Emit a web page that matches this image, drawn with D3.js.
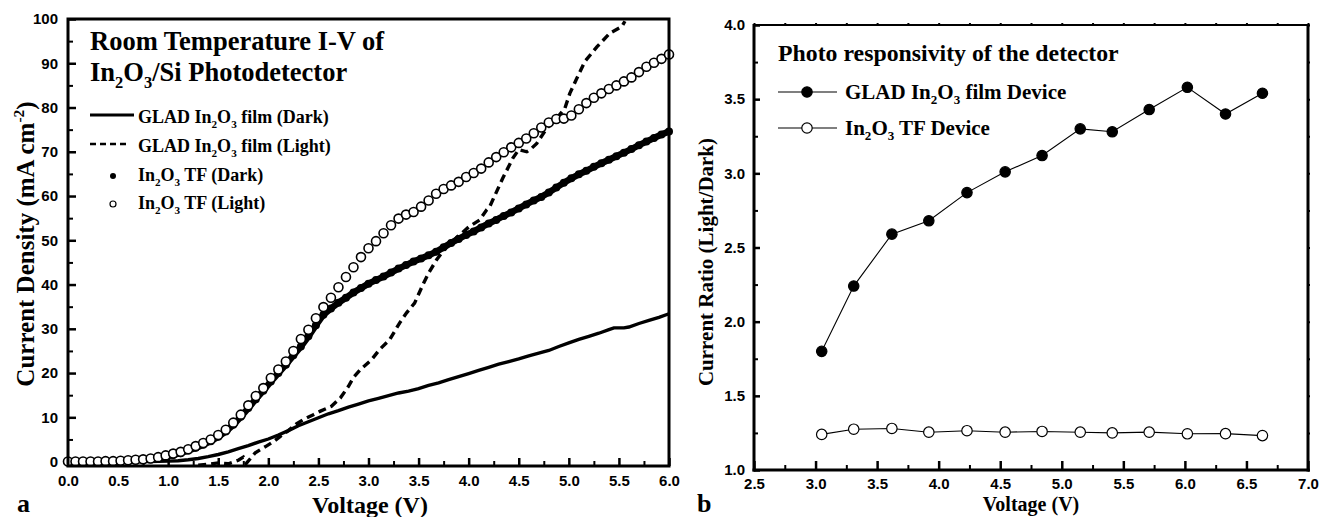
<!DOCTYPE html>
<html>
<head>
<meta charset="utf-8">
<script src="https://cdn.jsdelivr.net/npm/d3@7"></script>
<style>
  body { margin: 0; background: #fff; }
  svg { display: block; }
  .tick text { font-family: "Liberation Sans", Arial, sans-serif; font-weight: bold; font-size: 15px; fill: #000; }
  .tick line { stroke: #000; stroke-width: 2.5; }
  .minor .tick line { stroke-width: 2; }
  .serif { font-family: "Liberation Serif", "Times New Roman", serif; font-weight: bold; fill: #000; }
</style>
</head>
<body>
<div id="chart"></div>
<script>
// ---------------------------------------------
// data, panel a : I-V curves
// ---------------------------------------------
// GLAD In2O3 film, dark (solid line)
const gladDarkV = [0, 0.5, 0.8, 1.0, 1.1, 1.2, 1.3, 1.4, 1.5, 1.6, 1.7, 1.8, 1.9, 2.0, 2.1, 2.2, 2.3, 2.4, 2.5,
  2.6, 2.7, 2.8, 2.9, 3.0, 3.1, 3.2, 3.3, 3.4, 3.5, 3.6, 3.7, 3.8, 3.9, 4.0, 4.1, 4.2, 4.3, 4.4, 4.5, 4.6, 4.7,
  4.8, 4.9, 5.0, 5.1, 5.2, 5.3, 5.4, 5.45, 5.55, 5.6, 5.7, 5.8, 5.9, 6.0];
const gladDarkJ = [0, 0, 0, 0.1, 0.2, 0.4, 0.7, 1.1, 1.6, 2.2, 2.9, 3.6, 4.4, 5.1, 6.0, 7.0, 8.1, 9.0, 9.9,
  10.8, 11.5, 12.3, 13.0, 13.7, 14.3, 14.9, 15.5, 15.9, 16.5, 17.2, 17.8, 18.5, 19.2, 19.9, 20.6, 21.3, 22.0, 22.6, 23.2, 23.9, 24.5,
  25.1, 26.0, 26.8, 27.6, 28.3, 29.0, 29.8, 30.2, 30.2, 30.4, 31.2, 31.9, 32.6, 33.4];

// GLAD In2O3 film, light (dashed line)
const gladLightV = [1.30, 1.40, 1.50, 1.60, 1.70, 1.75, 1.78, 1.87, 1.98, 2.05, 2.12, 2.20, 2.28, 2.35, 2.45, 2.52,
  2.63, 2.72, 2.80, 2.85, 2.92, 3.03, 3.11, 3.21, 3.31, 3.38, 3.46, 3.55, 3.60, 3.68, 3.78, 3.90, 4.00, 4.11,
  4.18, 4.21, 4.34, 4.44, 4.50, 4.58, 4.62, 4.68, 4.78, 4.88, 4.96, 5.01, 5.08, 5.16, 5.28, 5.41, 5.53, 5.56];
const gladLightJ = [-0.8, -0.6, -0.3, -0.5, 0.3, 1.0, -0.4, 2.0, 3.5, 4.5, 5.7, 7.0, 8.5, 9.5, 10.6, 11.4,
  12.5, 14.4, 17.0, 19.0, 20.8, 23.0, 25.3, 27.5, 31.3, 33.6, 35.8, 40.3, 42.6, 45.6, 48.6, 51.0, 53.0, 54.6,
  56.9, 57.6, 64.0, 68.5, 70.5, 70.0, 70.6, 71.9, 75.3, 77.6, 79.8, 83.2, 86.6, 90.4, 93.7, 96.8, 98.3, 99.5];

// In2O3 thin film sweep voltages (markers)
const tfV = [0, 0.075, 0.15, 0.225, 0.3, 0.375, 0.45, 0.525, 0.6, 0.675, 0.75, 0.825, 0.9, 0.975,
  1.05, 1.125, 1.2, 1.275, 1.35, 1.425, 1.5, 1.575, 1.65, 1.725, 1.8, 1.875, 1.95, 2.025,
  2.1, 2.175, 2.25, 2.325, 2.4, 2.475, 2.55, 2.625, 2.7, 2.775, 2.85, 2.925, 3.0, 3.075,
  3.15, 3.225, 3.3, 3.375, 3.45, 3.525, 3.6, 3.675, 3.75, 3.825, 3.9, 3.975, 4.05, 4.125,
  4.2, 4.275, 4.35, 4.425, 4.5, 4.575, 4.65, 4.725, 4.8, 4.875, 4.95, 5.025, 5.1, 5.175,
  5.25, 5.325, 5.4, 5.475, 5.55, 5.625, 5.7, 5.775, 5.85, 5.925, 6.0];
const tfDarkJ = [0, 0, 0, 0, 0, 0, 0.1, 0.1, 0.2, 0.3, 0.4, 0.5, 0.8, 1.1,
  1.5, 1.9, 2.5, 3.1, 3.8, 4.6, 5.6, 6.8, 8.3, 10.1, 12.1, 14.1, 16.0, 18.1,
  20.0, 21.9, 24.0, 26.0, 28.3, 30.8, 33.2, 34.6, 35.9, 37.0, 38.2, 39.2, 40.2, 41.0,
  41.8, 42.7, 43.6, 44.4, 45.2, 45.9, 46.6, 47.4, 48.4, 49.4, 50.3, 51.2, 52.0, 52.9,
  53.8, 54.6, 55.5, 56.3, 57.2, 58.1, 59.0, 59.8, 60.8, 61.9, 63.0, 64.0, 64.9, 65.7,
  66.6, 67.4, 68.2, 69.0, 69.8, 70.6, 71.5, 72.3, 73.1, 73.9, 74.6];
const tfLightJ = [0, 0, 0, 0, 0, 0.1, 0.1, 0.2, 0.3, 0.4, 0.5, 0.7, 1.0, 1.4,
  1.8, 2.2, 2.8, 3.5, 4.2, 5.0, 6.0, 7.2, 8.8, 10.6, 12.7, 14.8, 16.6, 18.9,
  20.8, 22.6, 25.0, 27.7, 29.8, 32.4, 34.9, 37.0, 39.4, 41.7, 43.9, 46.2, 48.2, 49.8,
  51.6, 53.4, 54.9, 55.8, 56.4, 57.6, 59.0, 60.5, 61.6, 62.4, 63.2, 64.3, 65.2, 66.2,
  67.6, 68.8, 69.9, 71.0, 72.0, 73.0, 74.2, 75.5, 76.6, 77.4, 77.5, 78.2, 79.6, 81.0,
  82.2, 83.2, 84.2, 85.0, 85.9, 86.8, 88.0, 89.2, 90.1, 91.0, 92.0];

// ---------------------------------------------
// data, panel b : current ratio
// ---------------------------------------------
const ratioV = [3.05, 3.31, 3.62, 3.92, 4.23, 4.54, 4.84, 5.15, 5.41, 5.71, 6.02, 6.33, 6.63];
const ratioGlad = [1.80, 2.24, 2.59, 2.68, 2.87, 3.01, 3.12, 3.30, 3.28, 3.43, 3.58, 3.40, 3.54];
const ratioTF = [1.24, 1.275, 1.28, 1.255, 1.265, 1.255, 1.26, 1.255, 1.25, 1.255, 1.244, 1.245, 1.232];

const zip = (xs, ys) => xs.map((x, i) => ({x: x, y: ys[i]}));

const svg = d3.select('#chart').append('svg')
  .attr('width', 1331)
  .attr('height', 517);

// text with sub/superscripts: parts = [[text, 'sub'|'sup'|''], ...]
function richText(sel, parts, size) {
  let shift = 0; // current baseline offset
  parts.forEach(function(p) {
    let target = p[1] === 'sub' ? size * 0.25 : (p[1] === 'sup' ? -size * 0.4 : 0);
    let t = sel.append('tspan').text(p[0]);
    if (target !== shift) t.attr('dy', target - shift);
    if (p[1]) t.attr('font-size', size * 0.62);
    shift = target;
  });
  return sel;
}

// ---------------------------------------------
// panel a
// ---------------------------------------------
const xa = d3.scaleLinear().domain([0, 6]).range([68, 669]);
const ya = d3.scaleLinear().domain([-1, 100]).range([466, 19]);

const ga = svg.append('g');

// axes (ticks pointing inward)
ga.append('g').attr('transform', 'translate(0,466)')
  .call(d3.axisBottom(xa).tickValues(d3.range(0, 6.01, 0.5)).tickFormat(d3.format('.1f')).tickSize(-8).tickPadding(9));
ga.append('g').attr('class', 'minor').attr('transform', 'translate(0,466)')
  .call(d3.axisBottom(xa).tickValues(d3.range(0.25, 6, 0.5)).tickFormat('').tickSize(-5));
ga.append('g').attr('transform', 'translate(68,0)')
  .call(d3.axisLeft(ya).tickValues(d3.range(0, 101, 10)).tickFormat(d3.format('d')).tickSize(-8).tickPadding(10));
ga.append('g').attr('class', 'minor').attr('transform', 'translate(68,0)')
  .call(d3.axisLeft(ya).tickValues(d3.range(5, 100, 10)).tickFormat('').tickSize(-5));
ga.selectAll('.domain').remove();

const lineA = d3.line().x(d => xa(d.x)).y(d => ya(d.y));

ga.append('path').datum(zip(gladDarkV, gladDarkJ))
  .attr('d', lineA).attr('fill', 'none').attr('stroke', '#000').attr('stroke-width', 3.4);

ga.append('path').datum(zip(gladLightV, gladLightJ))
  .attr('d', lineA).attr('fill', 'none').attr('stroke', '#000').attr('stroke-width', 3.4)
  .attr('stroke-dasharray', '8,5');

// TF dark: dense filled markers
ga.append('path').datum(zip(tfV, tfDarkJ))
  .attr('d', lineA).attr('fill', 'none').attr('stroke', '#000').attr('stroke-width', 6.5);
ga.append('g').selectAll('circle')
  .data(zip(tfV, tfDarkJ))
  .enter().append('circle')
  .attr('cx', d => xa(d.x)).attr('cy', d => ya(d.y)).attr('r', 4)
  .attr('fill', '#000');

// TF light: open markers
ga.append('g').selectAll('circle')
  .data(zip(tfV, tfLightJ))
  .enter().append('circle')
  .attr('cx', d => xa(d.x)).attr('cy', d => ya(d.y)).attr('r', 4.5)
  .attr('fill', '#fff').attr('stroke', '#000').attr('stroke-width', 1.6);

// frame
ga.append('rect').attr('x', 68).attr('y', 19).attr('width', 601).attr('height', 447)
  .attr('fill', 'none').attr('stroke', '#000').attr('stroke-width', 3);

// title
ga.append('text').attr('class', 'serif').attr('x', 90).attr('y', 50).attr('font-size', 26.5)
  .text('Room Temperature I-V of');
richText(ga.append('text').attr('class', 'serif').attr('x', 90).attr('y', 81).attr('font-size', 26.5),
  [['In', ''], ['2', 'sub'], ['O', ''], ['3', 'sub'], ['/Si Photodetector', '']], 26.5);

// legend
const legA = [
  {y: 118, type: 'solid', parts: [['GLAD In', ''], ['2', 'sub'], ['O', ''], ['3', 'sub'], [' film (Dark)', '']]},
  {y: 147, type: 'dash', parts: [['GLAD In', ''], ['2', 'sub'], ['O', ''], ['3', 'sub'], [' film (Light)', '']]},
  {y: 176, type: 'dot', parts: [['In', ''], ['2', 'sub'], ['O', ''], ['3', 'sub'], [' TF (Dark)', '']]},
  {y: 204, type: 'open', parts: [['In', ''], ['2', 'sub'], ['O', ''], ['3', 'sub'], [' TF (Light)', '']]}
];
legA.forEach(function(e) {
  if (e.type === 'solid') {
    ga.append('line').attr('x1', 90).attr('x2', 134).attr('y1', e.y - 3).attr('y2', e.y - 3)
      .attr('stroke', '#000').attr('stroke-width', 3);
  } else if (e.type === 'dash') {
    ga.append('line').attr('x1', 90).attr('x2', 126).attr('y1', e.y - 3).attr('y2', e.y - 3)
      .attr('stroke', '#000').attr('stroke-width', 2.5).attr('stroke-dasharray', '6,4');
  } else if (e.type === 'dot') {
    ga.append('circle').attr('cx', 113).attr('cy', e.y).attr('r', 3).attr('fill', '#000');
  } else {
    ga.append('circle').attr('cx', 113).attr('cy', e.y).attr('r', 3).attr('fill', '#fff')
      .attr('stroke', '#000').attr('stroke-width', 1.2);
  }
  richText(ga.append('text').attr('class', 'serif').attr('x', 138).attr('y', e.y + 5).attr('font-size', 18),
    e.parts, 18);
});

// axis titles
ga.append('text').attr('class', 'serif').attr('x', 370).attr('y', 513).attr('font-size', 24)
  .attr('text-anchor', 'middle').text('Voltage (V)');
richText(ga.append('text').attr('class', 'serif').attr('font-size', 25).attr('text-anchor', 'middle')
  .attr('transform', 'translate(34,244) rotate(-90)'),
  [['Current Density (mA cm', ''], ['-2', 'sup'], [')', '']], 25);
ga.append('text').attr('class', 'serif').attr('x', 17).attr('y', 512).attr('font-size', 26).text('a');

// ---------------------------------------------
// panel b
// ---------------------------------------------
const xb = d3.scaleLinear().domain([2.5, 7.0]).range([754, 1308]);
const yb = d3.scaleLinear().domain([1.0, 4.0]).range([470, 25]);

const gb = svg.append('g');

gb.append('g').attr('transform', 'translate(0,470)')
  .call(d3.axisBottom(xb).tickValues(d3.range(2.5, 7.01, 0.5)).tickFormat(d3.format('.1f')).tickSize(-9).tickPadding(8));
gb.append('g').attr('class', 'minor').attr('transform', 'translate(0,470)')
  .call(d3.axisBottom(xb).tickValues(d3.range(2.75, 7, 0.5)).tickFormat('').tickSize(-5));
gb.append('g').attr('transform', 'translate(754,0)')
  .call(d3.axisLeft(yb).tickValues(d3.range(1.0, 4.01, 0.5)).tickFormat(d3.format('.1f')).tickSize(-6).tickPadding(9));
gb.append('g').attr('class', 'minor').attr('transform', 'translate(754,0)')
  .call(d3.axisLeft(yb).tickValues(d3.range(1.25, 4, 0.5)).tickFormat('').tickSize(-4));
// small outer ticks on top and right
gb.append('g').attr('class', 'minor').attr('transform', 'translate(0,25)')
  .call(d3.axisTop(xb).tickValues(d3.range(2.5, 7.01, 0.25)).tickFormat('').tickSize(2));
gb.append('g').attr('class', 'minor').attr('transform', 'translate(1308,0)')
  .call(d3.axisRight(yb).tickValues(d3.range(1.0, 4.01, 0.25)).tickFormat('').tickSize(2));
gb.selectAll('.domain').remove();

const lineB = d3.line().x(d => xb(d.x)).y(d => yb(d.y));

[ratioGlad, ratioTF].forEach(function(vals, k) {
  let pts = zip(ratioV, vals);
  gb.append('path').datum(pts).attr('d', lineB)
    .attr('fill', 'none').attr('stroke', '#000').attr('stroke-width', 1.1);
  gb.append('g').selectAll('circle').data(pts)
    .enter().append('circle')
    .attr('cx', d => xb(d.x)).attr('cy', d => yb(d.y)).attr('r', 5.2)
    .attr('fill', k === 0 ? '#000' : '#fff').attr('stroke', '#000').attr('stroke-width', 1.2);
});

// frame
gb.append('line').attr('x1', 754).attr('x2', 1308).attr('y1', 25).attr('y2', 25).attr('stroke', '#000').attr('stroke-width', 2);
gb.append('line').attr('x1', 754).attr('x2', 754).attr('y1', 24).attr('y2', 471.5).attr('stroke', '#000').attr('stroke-width', 3);
gb.append('line').attr('x1', 1308).attr('x2', 1308).attr('y1', 24).attr('y2', 471.5).attr('stroke', '#000').attr('stroke-width', 3);
gb.append('line').attr('x1', 752.5).attr('x2', 1309.5).attr('y1', 470).attr('y2', 470).attr('stroke', '#000').attr('stroke-width', 3);

gb.append('text').attr('class', 'serif').attr('x', 778).attr('y', 61).attr('font-size', 23.8)
  .text('Photo responsivity of the detector');

const legB = [
  {y: 92, fill: '#000', parts: [['GLAD In', ''], ['2', 'sub'], ['O', ''], ['3', 'sub'], [' film Device', '']]},
  {y: 128, fill: '#fff', parts: [['In', ''], ['2', 'sub'], ['O', ''], ['3', 'sub'], [' TF Device', '']]}
];
legB.forEach(function(e) {
  gb.append('line').attr('x1', 778).attr('x2', 837).attr('y1', e.y).attr('y2', e.y)
    .attr('stroke', '#000').attr('stroke-width', 1.1);
  gb.append('circle').attr('cx', 807).attr('cy', e.y).attr('r', 5.2)
    .attr('fill', e.fill).attr('stroke', '#000').attr('stroke-width', 1.2);
  richText(gb.append('text').attr('class', 'serif').attr('x', 845).attr('y', e.y + 7).attr('font-size', 21),
    e.parts, 21);
});

gb.append('text').attr('class', 'serif').attr('x', 1031).attr('y', 511).attr('font-size', 20)
  .attr('text-anchor', 'middle').text('Voltage (V)');
gb.append('text').attr('class', 'serif').attr('font-size', 21).attr('text-anchor', 'middle')
  .attr('transform', 'translate(713,262) rotate(-90)').text('Current Ratio (Light/Dark)');
gb.append('text').attr('class', 'serif').attr('x', 697).attr('y', 512).attr('font-size', 26).text('b');
</script>
</body>
</html>
